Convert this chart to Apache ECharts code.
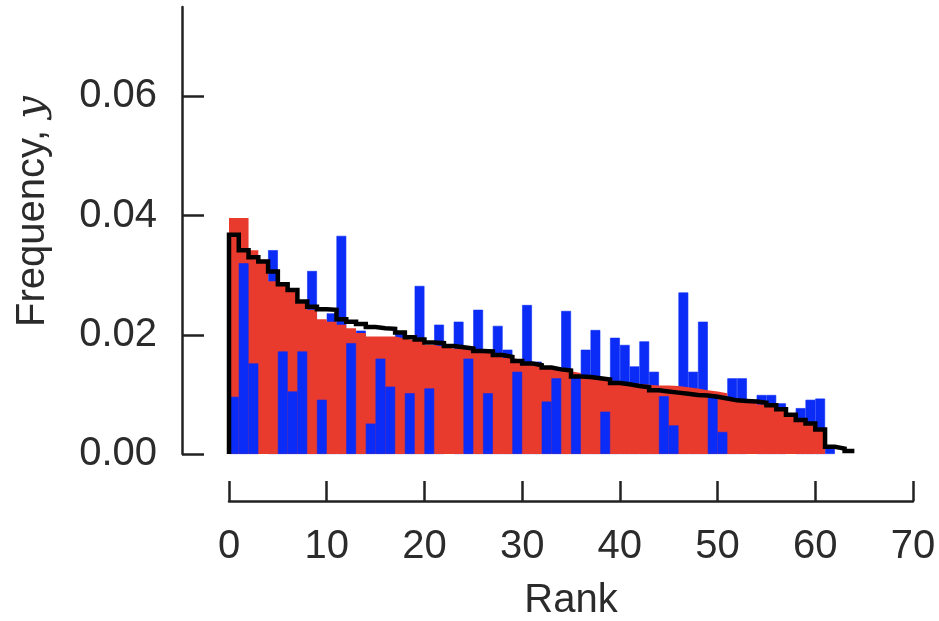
<!DOCTYPE html>
<html>
<head>
<meta charset="utf-8">
<script src="https://cdn.jsdelivr.net/npm/echarts@6/dist/echarts.min.js"></script>
<style>html,body{margin:0;padding:0;background:#fff}#c{width:939px;height:621px}</style>
</head>
<body>
<div id="c"></div>
<script>
// Red bars (rank 0..61)
const redValues = [0.0396,0.0396,0.0342,0.0326,0.0290,0.0284,0.0275,0.0253,0.0242,0.0226,
  0.0222,0.0217,0.0211,0.0203,0.0197,0.0197,0.0197,0.0194,0.0191,0.0190,
  0.0183,0.0180,0.0177,0.0176,0.0175,0.0172,0.0169,0.0166,0.0161,0.0158,
  0.0152,0.0148,0.0147,0.0144,0.0139,0.0136,0.0128,0.0127,0.0124,0.0121,
  0.0120,0.0118,0.0116,0.0115,0.0115,0.0114,0.0112,0.0110,0.0107,0.0105,
  0.0102,0.0090,0.0088,0.0088,0.0083,0.0080,0.0074,0.0068,0.0060,0.0051,
  0.0040,0];
// Blue bars (rank 0..61)
const blueValues = [0.0096,0.0320,0.0152,0,0.0342,0.0172,0.0105,0.0172,0.0307,0.0091,
  0.0236,0.0366,0.0186,0.0207,0.0051,0.0160,0.0113,0.0203,0.0102,0.0282,
  0.0110,0.0217,0,0.0222,0.0160,0.0242,0.0102,0.0215,0.0175,0.0138,
  0.0250,0.0155,0.0088,0.0127,0.0240,0.0128,0.0175,0.0208,0.0071,0.0195,
  0.0183,0.0147,0.0189,0.0138,0.0097,0.0048,0.0271,0.0138,0.0222,0.0100,
  0.0037,0.0127,0.0127,0,0.0099,0.0099,0.0085,0,0.0077,0.0091,
  0.0093,0.0009];
// Black step line (rank 0..63)
const lineValues = [0.0368,0.0342,0.0330,0.0323,0.0306,0.0285,0.0275,0.0256,0.0247,0.0243,
  0.0242,0.0226,0.0222,0.0218,0.0213,0.0211,0.0210,0.0204,0.0196,0.0192,
  0.0187,0.0186,0.0181,0.0179,0.0177,0.0173,0.0172,0.0166,0.0163,0.0156,
  0.0152,0.0149,0.0145,0.0142,0.0140,0.0130,0.0129,0.0127,0.0125,0.0119,
  0.0117,0.0114,0.0112,0.0107,0.0105,0.0103,0.0101,0.0099,0.0098,0.0096,
  0.0093,0.0090,0.0089,0.0088,0.0086,0.0082,0.0075,0.0066,0.0057,0.0051,
  0.0041,0.0012,0.0009,0.0005];
const yTicks = [0, 0.02, 0.04, 0.06];
const xTicks = [0, 10, 20, 30, 40, 50, 60, 70];

const RED = '#e83b2e', BLUE = '#0b2cf6', INK = '#222222', TXT = '#2b2b2b';
const FONT = 'Liberation Sans';

const rankCats = [];
for (let i = 0; i < 70; i++) rankCats.push(String(i));

// blue taller than red: drawn behind the red; blue shorter: drawn in front
const blueBack = [], blueFront = [];
for (let i = 0; i < blueValues.length; i++) {
  const r = redValues[i], b = blueValues[i];
  blueBack.push(b > r ? b : '-');
  blueFront.push(b > 0 && b <= r ? b : '-');
}
// red histogram as one contiguous step area
const redStep = redValues.map((v, i) => [i, v]);
const stepData = [[0, 0]];
lineValues.forEach((v, i) => stepData.push([i, v]));
stepData.push([lineValues.length, lineValues[lineValues.length - 1]]);

const blueStyle = {color: BLUE, borderColor: BLUE, borderWidth: 0.6};
const axisLine = {show: true, onZero: false, lineStyle: {color: INK, width: 2.5}};
const chart = echarts.init(document.getElementById('c'), null, {renderer: 'canvas'});
chart.setOption({
  animation: false,
  backgroundColor: '#fff',
  grid: {left: 229, right: 26, top: 7, bottom: 167, containLabel: false, outerBoundsMode: 'none'},
  xAxis: [
    {
      type: 'value', min: 0, max: 70, interval: 10, offset: 47,
      axisLine: axisLine,
      axisTick: {show: true, inside: true, length: 20, lineStyle: {color: INK, width: 2.5}, customValues: xTicks},
      axisLabel: {fontSize: 40, fontFamily: FONT, color: TXT, margin: 26, customValues: xTicks},
      splitLine: {show: false},
      name: 'Rank', nameLocation: 'middle', nameGap: 80,
      nameTextStyle: {fontSize: 40, fontFamily: FONT, color: TXT}
    },
    {type: 'category', data: rankCats, show: false, boundaryGap: true}
  ],
  yAxis: {
    type: 'value', min: 0, max: 0.075, offset: 47,
    axisLine: axisLine,
    axisTick: {show: true, inside: true, length: 22, lineStyle: {color: INK, width: 2.5}, customValues: yTicks},
    axisLabel: {fontSize: 40, fontFamily: FONT, color: TXT, margin: 25, customValues: yTicks,
      formatter: v => v.toFixed(2)},
    splitLine: {show: false},
    name: 'Frequency, {i|y}', nameLocation: 'middle', nameGap: 129,
    nameTextStyle: {fontSize: 40, fontFamily: FONT, color: TXT, padding: [0, 0, 0, 38],
      rich: {i: {fontSize: 40, fontFamily: 'DejaVu Serif', fontStyle: 'italic', color: TXT}}}
  },
  series: [
    {type: 'bar', xAxisIndex: 1, data: blueBack, barWidth: '100%', barGap: '-100%', itemStyle: blueStyle, z: 1},
    {type: 'line', xAxisIndex: 0, data: redStep, step: 'end', symbol: 'none',
      lineStyle: {width: 0, color: RED}, areaStyle: {color: RED, opacity: 1}, z: 2},
    {type: 'bar', xAxisIndex: 1, data: blueFront, barWidth: '100%', barGap: '-100%', itemStyle: blueStyle, z: 3},
    {type: 'line', xAxisIndex: 0, data: stepData, step: 'end', symbol: 'none',
      lineStyle: {color: '#000', width: 4.5, join: 'miter'}, z: 5}
  ]
});
</script>
</body>
</html>
